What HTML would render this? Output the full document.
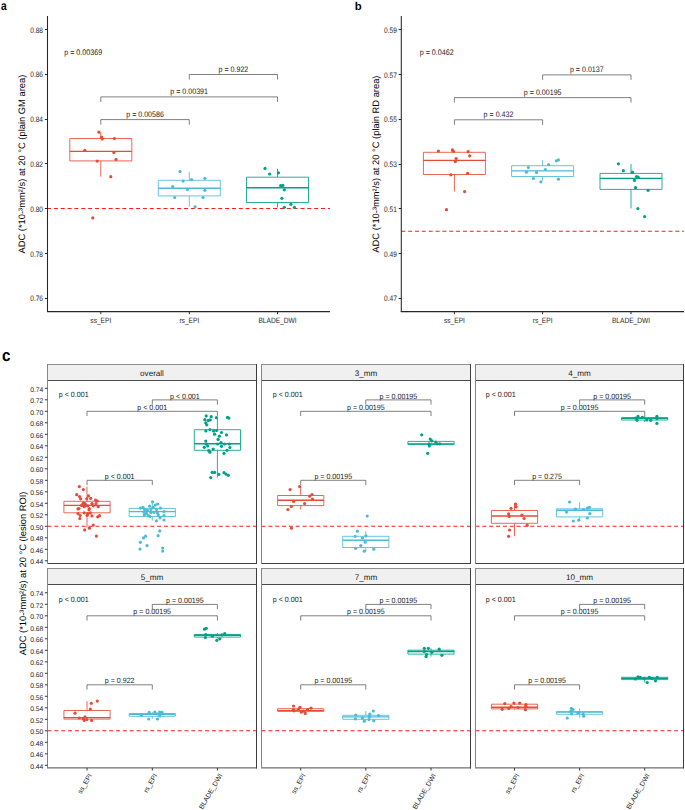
<!DOCTYPE html>
<html><head><meta charset="utf-8"><title>ADC boxplots</title>
<style>
html,body{margin:0;padding:0;background:#fff;}
svg{display:block;font-family:"Liberation Sans", sans-serif;text-rendering:geometricPrecision;}
</style></head><body>
<svg width="685" height="810" viewBox="0 0 685 810">
<rect x="0" y="0" width="685" height="810" fill="#fff"/>
<line x1="47.00" y1="208.50" x2="330.00" y2="208.50" stroke="#FF1A1A" stroke-width="1.05" stroke-dasharray="3.95 2.9"/>
<line x1="100.80" y1="132.50" x2="100.80" y2="138.50" stroke="#E64B35" stroke-width="0.85" />
<line x1="100.80" y1="160.90" x2="100.80" y2="176.70" stroke="#E64B35" stroke-width="0.85" />
<rect x="69.80" y="138.50" width="62.00" height="22.40" fill="none" stroke="#E64B35" stroke-width="0.85" stroke-linejoin="round"/>
<line x1="69.80" y1="151.40" x2="131.80" y2="151.40" stroke="#E64B35" stroke-width="1.4" />
<line x1="189.30" y1="171.90" x2="189.30" y2="180.30" stroke="#4DBBD5" stroke-width="0.85" />
<line x1="189.30" y1="195.90" x2="189.30" y2="206.70" stroke="#4DBBD5" stroke-width="0.85" />
<rect x="158.30" y="180.30" width="62.00" height="15.60" fill="none" stroke="#4DBBD5" stroke-width="0.85" stroke-linejoin="round"/>
<line x1="158.30" y1="188.30" x2="220.30" y2="188.30" stroke="#4DBBD5" stroke-width="1.4" />
<line x1="277.50" y1="168.80" x2="277.50" y2="177.20" stroke="#00A087" stroke-width="0.85" />
<line x1="277.50" y1="202.50" x2="277.50" y2="207.60" stroke="#00A087" stroke-width="0.85" />
<rect x="246.50" y="177.20" width="62.00" height="25.30" fill="none" stroke="#00A087" stroke-width="0.85" stroke-linejoin="round"/>
<line x1="246.50" y1="187.70" x2="308.50" y2="187.70" stroke="#00A087" stroke-width="1.4" />
<circle cx="98.90" cy="132.20" r="1.6" fill="#E64B35"/>
<circle cx="101.70" cy="137.20" r="1.6" fill="#E64B35"/>
<circle cx="102.20" cy="138.90" r="1.6" fill="#E64B35"/>
<circle cx="114.40" cy="138.60" r="1.6" fill="#E64B35"/>
<circle cx="84.80" cy="150.30" r="1.6" fill="#E64B35"/>
<circle cx="113.90" cy="152.60" r="1.6" fill="#E64B35"/>
<circle cx="116.10" cy="159.40" r="1.6" fill="#E64B35"/>
<circle cx="97.20" cy="161.10" r="1.6" fill="#E64B35"/>
<circle cx="110.80" cy="176.70" r="1.6" fill="#E64B35"/>
<circle cx="92.80" cy="217.90" r="1.6" fill="#E64B35"/>
<circle cx="180.00" cy="171.60" r="1.6" fill="#4DBBD5"/>
<circle cx="183.10" cy="181.10" r="1.6" fill="#4DBBD5"/>
<circle cx="191.60" cy="179.60" r="1.6" fill="#4DBBD5"/>
<circle cx="204.90" cy="178.30" r="1.6" fill="#4DBBD5"/>
<circle cx="172.70" cy="186.50" r="1.6" fill="#4DBBD5"/>
<circle cx="187.40" cy="189.50" r="1.6" fill="#4DBBD5"/>
<circle cx="204.90" cy="190.30" r="1.6" fill="#4DBBD5"/>
<circle cx="174.70" cy="197.50" r="1.6" fill="#4DBBD5"/>
<circle cx="203.00" cy="197.50" r="1.6" fill="#4DBBD5"/>
<circle cx="195.10" cy="206.90" r="1.6" fill="#4DBBD5"/>
<circle cx="265.00" cy="168.40" r="1.6" fill="#00A087"/>
<circle cx="269.60" cy="174.00" r="1.6" fill="#00A087"/>
<circle cx="278.50" cy="172.80" r="1.6" fill="#00A087"/>
<circle cx="280.70" cy="185.70" r="1.6" fill="#00A087"/>
<circle cx="282.90" cy="185.40" r="1.6" fill="#00A087"/>
<circle cx="284.30" cy="189.80" r="1.6" fill="#00A087"/>
<circle cx="281.90" cy="198.30" r="1.6" fill="#00A087"/>
<circle cx="290.90" cy="204.30" r="1.6" fill="#00A087"/>
<circle cx="284.30" cy="207.30" r="1.6" fill="#00A087"/>
<circle cx="294.40" cy="207.30" r="1.6" fill="#00A087"/>
<path d="M100.80,124.60 V119.60 H189.30 V124.60" fill="none" stroke="#555555" stroke-width="0.75"/>
<text x="0.00" y="0.00" font-size="7.1" text-anchor="middle" fill="#1a1a1a" font-weight="normal" transform="translate(145.05,116.70) scale(1,1.13)">p = 0.00586</text>
<path d="M100.80,101.90 V96.90 H277.50 V101.90" fill="none" stroke="#555555" stroke-width="0.75"/>
<text x="0.00" y="0.00" font-size="7.1" text-anchor="middle" fill="#1a1a1a" font-weight="normal" transform="translate(189.15,94.00) scale(1,1.13)">p = 0.00391</text>
<path d="M189.30,79.50 V74.50 H277.50 V79.50" fill="none" stroke="#555555" stroke-width="0.75"/>
<text x="0.00" y="0.00" font-size="7.1" text-anchor="middle" fill="#1a1a1a" font-weight="normal" transform="translate(233.40,71.60) scale(1,1.13)">p = 0.922</text>
<text x="0.00" y="0.00" font-size="7.15" text-anchor="start" fill="#1a1a1a" font-weight="normal" transform="translate(64.2,55.3) scale(1,1.13)">p = 0.00369</text>
<line x1="47.50" y1="16.00" x2="47.50" y2="312.10" stroke="#262626" stroke-width="1.05" />
<line x1="47.00" y1="311.60" x2="330.00" y2="311.60" stroke="#262626" stroke-width="1.05" />
<line x1="44.90" y1="298.50" x2="47.50" y2="298.50" stroke="#262626" stroke-width="1.0" />
<text x="0.00" y="0.00" font-size="7.9" text-anchor="end" fill="#262626" font-weight="normal" transform="translate(43.00,301.32) scale(0.83,1)">0.76</text>
<line x1="44.90" y1="253.50" x2="47.50" y2="253.50" stroke="#262626" stroke-width="1.0" />
<text x="0.00" y="0.00" font-size="7.9" text-anchor="end" fill="#262626" font-weight="normal" transform="translate(43.00,256.55) scale(0.83,1)">0.78</text>
<line x1="44.90" y1="208.50" x2="47.50" y2="208.50" stroke="#262626" stroke-width="1.0" />
<text x="0.00" y="0.00" font-size="7.9" text-anchor="end" fill="#262626" font-weight="normal" transform="translate(43.00,211.78) scale(0.83,1)">0.80</text>
<line x1="44.90" y1="163.50" x2="47.50" y2="163.50" stroke="#262626" stroke-width="1.0" />
<text x="0.00" y="0.00" font-size="7.9" text-anchor="end" fill="#262626" font-weight="normal" transform="translate(43.00,167.01) scale(0.83,1)">0.82</text>
<line x1="44.90" y1="119.50" x2="47.50" y2="119.50" stroke="#262626" stroke-width="1.0" />
<text x="0.00" y="0.00" font-size="7.9" text-anchor="end" fill="#262626" font-weight="normal" transform="translate(43.00,122.24) scale(0.83,1)">0.84</text>
<line x1="44.90" y1="74.50" x2="47.50" y2="74.50" stroke="#262626" stroke-width="1.0" />
<text x="0.00" y="0.00" font-size="7.9" text-anchor="end" fill="#262626" font-weight="normal" transform="translate(43.00,77.47) scale(0.83,1)">0.86</text>
<line x1="44.90" y1="29.50" x2="47.50" y2="29.50" stroke="#262626" stroke-width="1.0" />
<text x="0.00" y="0.00" font-size="7.9" text-anchor="end" fill="#262626" font-weight="normal" transform="translate(43.00,32.70) scale(0.83,1)">0.88</text>
<line x1="100.80" y1="311.40" x2="100.80" y2="314.20" stroke="#262626" stroke-width="1.0" />
<text x="0.00" y="0.00" font-size="7.7" text-anchor="middle" fill="#262626" font-weight="normal" transform="translate(100.80,322.8) scale(0.86,1)">ss_EPI</text>
<line x1="189.30" y1="311.40" x2="189.30" y2="314.20" stroke="#262626" stroke-width="1.0" />
<text x="0.00" y="0.00" font-size="7.7" text-anchor="middle" fill="#262626" font-weight="normal" transform="translate(189.30,322.8) scale(0.86,1)">rs_EPI</text>
<line x1="277.50" y1="311.40" x2="277.50" y2="314.20" stroke="#262626" stroke-width="1.0" />
<text x="0.00" y="0.00" font-size="7.7" text-anchor="middle" fill="#262626" font-weight="normal" transform="translate(277.50,322.8) scale(0.86,1)">BLADE_DWI</text>
<text x="0.00" y="0.00" font-size="9.35" text-anchor="middle" fill="#000" font-weight="normal" transform="translate(25.40,164.1) rotate(-90)">ADC (*10-³mm²/s) at 20 °C (plain GM area)</text>
<line x1="401.30" y1="231.20" x2="684.00" y2="231.20" stroke="#FF1A1A" stroke-width="1.05" stroke-dasharray="3.95 2.9"/>
<line x1="454.40" y1="150.50" x2="454.40" y2="152.30" stroke="#E64B35" stroke-width="0.85" />
<line x1="454.40" y1="174.50" x2="454.40" y2="191.60" stroke="#E64B35" stroke-width="0.85" />
<rect x="423.40" y="152.30" width="62.00" height="22.20" fill="none" stroke="#E64B35" stroke-width="0.85" stroke-linejoin="round"/>
<line x1="423.40" y1="160.40" x2="485.40" y2="160.40" stroke="#E64B35" stroke-width="1.4" />
<line x1="542.60" y1="160.20" x2="542.60" y2="165.70" stroke="#4DBBD5" stroke-width="0.85" />
<line x1="542.60" y1="176.50" x2="542.60" y2="180.60" stroke="#4DBBD5" stroke-width="0.85" />
<rect x="511.60" y="165.70" width="62.00" height="10.80" fill="none" stroke="#4DBBD5" stroke-width="0.85" stroke-linejoin="round"/>
<line x1="511.60" y1="170.90" x2="573.60" y2="170.90" stroke="#4DBBD5" stroke-width="1.4" />
<line x1="631.00" y1="164.00" x2="631.00" y2="173.40" stroke="#00A087" stroke-width="0.85" />
<line x1="631.00" y1="189.40" x2="631.00" y2="208.40" stroke="#00A087" stroke-width="0.85" />
<rect x="600.00" y="173.40" width="62.00" height="16.00" fill="none" stroke="#00A087" stroke-width="0.85" stroke-linejoin="round"/>
<line x1="600.00" y1="178.40" x2="662.00" y2="178.40" stroke="#00A087" stroke-width="1.4" />
<circle cx="438.40" cy="151.10" r="1.6" fill="#E64B35"/>
<circle cx="452.40" cy="149.90" r="1.6" fill="#E64B35"/>
<circle cx="453.30" cy="151.30" r="1.6" fill="#E64B35"/>
<circle cx="468.10" cy="151.70" r="1.6" fill="#E64B35"/>
<circle cx="469.70" cy="155.80" r="1.6" fill="#E64B35"/>
<circle cx="456.10" cy="158.50" r="1.6" fill="#E64B35"/>
<circle cx="455.30" cy="161.60" r="1.6" fill="#E64B35"/>
<circle cx="450.90" cy="174.80" r="1.6" fill="#E64B35"/>
<circle cx="467.60" cy="173.30" r="1.6" fill="#E64B35"/>
<circle cx="464.60" cy="191.60" r="1.6" fill="#E64B35"/>
<circle cx="446.50" cy="209.70" r="1.6" fill="#E64B35"/>
<circle cx="556.40" cy="160.80" r="1.6" fill="#4DBBD5"/>
<circle cx="558.40" cy="159.90" r="1.6" fill="#4DBBD5"/>
<circle cx="548.60" cy="164.60" r="1.6" fill="#4DBBD5"/>
<circle cx="528.40" cy="167.50" r="1.6" fill="#4DBBD5"/>
<circle cx="545.30" cy="169.50" r="1.6" fill="#4DBBD5"/>
<circle cx="526.40" cy="172.20" r="1.6" fill="#4DBBD5"/>
<circle cx="536.50" cy="172.40" r="1.6" fill="#4DBBD5"/>
<circle cx="533.40" cy="178.50" r="1.6" fill="#4DBBD5"/>
<circle cx="540.90" cy="181.80" r="1.6" fill="#4DBBD5"/>
<circle cx="558.40" cy="179.20" r="1.6" fill="#4DBBD5"/>
<circle cx="618.40" cy="163.80" r="1.6" fill="#00A087"/>
<circle cx="623.30" cy="170.70" r="1.6" fill="#00A087"/>
<circle cx="632.40" cy="172.20" r="1.6" fill="#00A087"/>
<circle cx="636.50" cy="176.60" r="1.6" fill="#00A087"/>
<circle cx="638.20" cy="177.20" r="1.6" fill="#00A087"/>
<circle cx="634.50" cy="180.40" r="1.6" fill="#00A087"/>
<circle cx="635.50" cy="187.70" r="1.6" fill="#00A087"/>
<circle cx="648.10" cy="190.30" r="1.6" fill="#00A087"/>
<circle cx="637.90" cy="208.60" r="1.6" fill="#00A087"/>
<circle cx="644.60" cy="216.60" r="1.6" fill="#00A087"/>
<path d="M454.40,124.80 V119.80 H542.60 V124.80" fill="none" stroke="#555555" stroke-width="0.75"/>
<text x="0.00" y="0.00" font-size="7.1" text-anchor="middle" fill="#1a1a1a" font-weight="normal" transform="translate(498.50,116.90) scale(1,1.13)">p = 0.432</text>
<path d="M454.40,102.60 V97.60 H631.00 V102.60" fill="none" stroke="#555555" stroke-width="0.75"/>
<text x="0.00" y="0.00" font-size="7.1" text-anchor="middle" fill="#1a1a1a" font-weight="normal" transform="translate(542.70,94.70) scale(1,1.13)">p = 0.00195</text>
<path d="M542.60,79.90 V74.90 H631.00 V79.90" fill="none" stroke="#555555" stroke-width="0.75"/>
<text x="0.00" y="0.00" font-size="7.1" text-anchor="middle" fill="#1a1a1a" font-weight="normal" transform="translate(586.80,72.00) scale(1,1.13)">p = 0.0137</text>
<text x="0.00" y="0.00" font-size="7.15" text-anchor="start" fill="#1a1a1a" font-weight="normal" transform="translate(419.7,55.3) scale(1,1.13)">p = 0.0462</text>
<line x1="401.30" y1="16.00" x2="401.30" y2="312.10" stroke="#262626" stroke-width="1.05" />
<line x1="400.80" y1="311.60" x2="684.00" y2="311.60" stroke="#262626" stroke-width="1.05" />
<line x1="398.70" y1="298.50" x2="401.30" y2="298.50" stroke="#262626" stroke-width="1.0" />
<text x="0.00" y="0.00" font-size="7.9" text-anchor="end" fill="#262626" font-weight="normal" transform="translate(396.80,301.40) scale(0.83,1)">0.47</text>
<line x1="398.70" y1="253.50" x2="401.30" y2="253.50" stroke="#262626" stroke-width="1.0" />
<text x="0.00" y="0.00" font-size="7.9" text-anchor="end" fill="#262626" font-weight="normal" transform="translate(396.80,256.65) scale(0.83,1)">0.49</text>
<line x1="398.70" y1="208.50" x2="401.30" y2="208.50" stroke="#262626" stroke-width="1.0" />
<text x="0.00" y="0.00" font-size="7.9" text-anchor="end" fill="#262626" font-weight="normal" transform="translate(396.80,211.90) scale(0.83,1)">0.51</text>
<line x1="398.70" y1="164.50" x2="401.30" y2="164.50" stroke="#262626" stroke-width="1.0" />
<text x="0.00" y="0.00" font-size="7.9" text-anchor="end" fill="#262626" font-weight="normal" transform="translate(396.80,167.15) scale(0.83,1)">0.53</text>
<line x1="398.70" y1="119.50" x2="401.30" y2="119.50" stroke="#262626" stroke-width="1.0" />
<text x="0.00" y="0.00" font-size="7.9" text-anchor="end" fill="#262626" font-weight="normal" transform="translate(396.80,122.40) scale(0.83,1)">0.55</text>
<line x1="398.70" y1="74.50" x2="401.30" y2="74.50" stroke="#262626" stroke-width="1.0" />
<text x="0.00" y="0.00" font-size="7.9" text-anchor="end" fill="#262626" font-weight="normal" transform="translate(396.80,77.65) scale(0.83,1)">0.57</text>
<line x1="398.70" y1="29.50" x2="401.30" y2="29.50" stroke="#262626" stroke-width="1.0" />
<text x="0.00" y="0.00" font-size="7.9" text-anchor="end" fill="#262626" font-weight="normal" transform="translate(396.80,32.90) scale(0.83,1)">0.59</text>
<line x1="454.40" y1="311.40" x2="454.40" y2="314.20" stroke="#262626" stroke-width="1.0" />
<text x="0.00" y="0.00" font-size="7.7" text-anchor="middle" fill="#262626" font-weight="normal" transform="translate(454.40,322.8) scale(0.86,1)">ss_EPI</text>
<line x1="542.60" y1="311.40" x2="542.60" y2="314.20" stroke="#262626" stroke-width="1.0" />
<text x="0.00" y="0.00" font-size="7.7" text-anchor="middle" fill="#262626" font-weight="normal" transform="translate(542.60,322.8) scale(0.86,1)">rs_EPI</text>
<line x1="631.00" y1="311.40" x2="631.00" y2="314.20" stroke="#262626" stroke-width="1.0" />
<text x="0.00" y="0.00" font-size="7.7" text-anchor="middle" fill="#262626" font-weight="normal" transform="translate(631.00,322.8) scale(0.86,1)">BLADE_DWI</text>
<text x="0.00" y="0.00" font-size="9.35" text-anchor="middle" fill="#000" font-weight="normal" transform="translate(379.20,164.1) rotate(-90)">ADC (*10-³mm²/s) at 20 °C (plain RD area)</text>
<text x="0.00" y="0.00" font-size="11.3" text-anchor="start" fill="#000" font-weight="bold" transform="translate(1.0,9.65) scale(0.9,1.12)">a</text>
<text x="354.70" y="9.70" font-size="11.3" text-anchor="start" fill="#000" font-weight="bold" >b</text>
<text x="0.00" y="0.00" font-size="15.2" text-anchor="start" fill="#000" font-weight="bold" transform="translate(2.0,360.8) scale(1,1.1)">c</text>
<rect x="47.50" y="364.50" width="209.00" height="16.00" fill="#F0F0F0" stroke="none" stroke-width="0" />
<text x="152.00" y="375.70" font-size="8.1" text-anchor="middle" fill="#1a1a1a" font-weight="normal" >overall</text>
<line x1="47.50" y1="526.30" x2="256.50" y2="526.30" stroke="#FF1A1A" stroke-width="1.05" stroke-dasharray="3.95 2.9"/>
<line x1="87.00" y1="486.60" x2="87.00" y2="501.30" stroke="#E64B35" stroke-width="0.85" />
<line x1="87.00" y1="512.80" x2="87.00" y2="527.70" stroke="#E64B35" stroke-width="0.85" />
<rect x="63.90" y="501.30" width="46.20" height="11.50" fill="none" stroke="#E64B35" stroke-width="0.85" stroke-linejoin="round"/>
<line x1="63.90" y1="505.40" x2="110.10" y2="505.40" stroke="#E64B35" stroke-width="1.4" />
<line x1="152.30" y1="501.60" x2="152.30" y2="508.40" stroke="#4DBBD5" stroke-width="0.85" />
<line x1="152.30" y1="516.50" x2="152.30" y2="520.60" stroke="#4DBBD5" stroke-width="0.85" />
<rect x="129.20" y="508.40" width="46.20" height="8.10" fill="none" stroke="#4DBBD5" stroke-width="0.85" stroke-linejoin="round"/>
<line x1="129.20" y1="511.60" x2="175.40" y2="511.60" stroke="#4DBBD5" stroke-width="1.4" />
<line x1="217.40" y1="417.40" x2="217.40" y2="429.70" stroke="#00A087" stroke-width="0.85" />
<line x1="217.40" y1="450.30" x2="217.40" y2="477.60" stroke="#00A087" stroke-width="0.85" />
<rect x="194.30" y="429.70" width="46.20" height="20.60" fill="none" stroke="#00A087" stroke-width="0.85" stroke-linejoin="round"/>
<line x1="194.30" y1="443.80" x2="240.50" y2="443.80" stroke="#00A087" stroke-width="1.4" />
<circle cx="79.30" cy="486.60" r="1.6" fill="#E64B35"/>
<circle cx="83.30" cy="489.60" r="1.6" fill="#E64B35"/>
<circle cx="76.70" cy="494.70" r="1.6" fill="#E64B35"/>
<circle cx="79.60" cy="496.60" r="1.6" fill="#E64B35"/>
<circle cx="80.60" cy="498.80" r="1.6" fill="#E64B35"/>
<circle cx="88.50" cy="495.90" r="1.6" fill="#E64B35"/>
<circle cx="86.80" cy="498.80" r="1.6" fill="#E64B35"/>
<circle cx="90.70" cy="498.40" r="1.6" fill="#E64B35"/>
<circle cx="95.50" cy="500.10" r="1.6" fill="#E64B35"/>
<circle cx="97.30" cy="501.00" r="1.6" fill="#E64B35"/>
<circle cx="83.30" cy="503.20" r="1.6" fill="#E64B35"/>
<circle cx="85.00" cy="503.60" r="1.6" fill="#E64B35"/>
<circle cx="82.40" cy="505.00" r="1.6" fill="#E64B35"/>
<circle cx="85.90" cy="505.40" r="1.6" fill="#E64B35"/>
<circle cx="87.70" cy="505.80" r="1.6" fill="#E64B35"/>
<circle cx="84.20" cy="506.70" r="1.6" fill="#E64B35"/>
<circle cx="81.50" cy="505.40" r="1.6" fill="#E64B35"/>
<circle cx="92.00" cy="503.60" r="1.6" fill="#E64B35"/>
<circle cx="93.30" cy="505.80" r="1.6" fill="#E64B35"/>
<circle cx="98.20" cy="506.70" r="1.6" fill="#E64B35"/>
<circle cx="96.00" cy="503.60" r="1.6" fill="#E64B35"/>
<circle cx="78.90" cy="508.50" r="1.6" fill="#E64B35"/>
<circle cx="78.00" cy="508.90" r="1.6" fill="#E64B35"/>
<circle cx="89.40" cy="508.50" r="1.6" fill="#E64B35"/>
<circle cx="89.00" cy="509.80" r="1.6" fill="#E64B35"/>
<circle cx="84.20" cy="512.80" r="1.6" fill="#E64B35"/>
<circle cx="78.00" cy="513.70" r="1.6" fill="#E64B35"/>
<circle cx="80.20" cy="515.50" r="1.6" fill="#E64B35"/>
<circle cx="79.80" cy="518.50" r="1.6" fill="#E64B35"/>
<circle cx="87.70" cy="513.70" r="1.6" fill="#E64B35"/>
<circle cx="87.20" cy="515.50" r="1.6" fill="#E64B35"/>
<circle cx="90.30" cy="512.80" r="1.6" fill="#E64B35"/>
<circle cx="92.00" cy="515.90" r="1.6" fill="#E64B35"/>
<circle cx="97.70" cy="516.80" r="1.6" fill="#E64B35"/>
<circle cx="99.50" cy="515.70" r="1.6" fill="#E64B35"/>
<circle cx="93.30" cy="525.10" r="1.6" fill="#E64B35"/>
<circle cx="89.40" cy="528.20" r="1.6" fill="#E64B35"/>
<circle cx="84.60" cy="529.90" r="1.6" fill="#E64B35"/>
<circle cx="96.40" cy="536.10" r="1.6" fill="#E64B35"/>
<circle cx="152.50" cy="501.80" r="1.6" fill="#4DBBD5"/>
<circle cx="157.70" cy="504.00" r="1.6" fill="#4DBBD5"/>
<circle cx="155.30" cy="505.10" r="1.6" fill="#4DBBD5"/>
<circle cx="149.60" cy="506.20" r="1.6" fill="#4DBBD5"/>
<circle cx="140.40" cy="508.10" r="1.6" fill="#4DBBD5"/>
<circle cx="143.00" cy="507.30" r="1.6" fill="#4DBBD5"/>
<circle cx="153.10" cy="507.30" r="1.6" fill="#4DBBD5"/>
<circle cx="160.50" cy="508.10" r="1.6" fill="#4DBBD5"/>
<circle cx="144.80" cy="509.50" r="1.6" fill="#4DBBD5"/>
<circle cx="147.40" cy="510.30" r="1.6" fill="#4DBBD5"/>
<circle cx="150.90" cy="509.50" r="1.6" fill="#4DBBD5"/>
<circle cx="156.60" cy="509.50" r="1.6" fill="#4DBBD5"/>
<circle cx="143.90" cy="512.10" r="1.6" fill="#4DBBD5"/>
<circle cx="146.50" cy="513.40" r="1.6" fill="#4DBBD5"/>
<circle cx="150.90" cy="512.50" r="1.6" fill="#4DBBD5"/>
<circle cx="148.30" cy="515.60" r="1.6" fill="#4DBBD5"/>
<circle cx="144.30" cy="514.70" r="1.6" fill="#4DBBD5"/>
<circle cx="164.00" cy="511.60" r="1.6" fill="#4DBBD5"/>
<circle cx="157.50" cy="513.00" r="1.6" fill="#4DBBD5"/>
<circle cx="164.00" cy="515.60" r="1.6" fill="#4DBBD5"/>
<circle cx="158.30" cy="515.10" r="1.6" fill="#4DBBD5"/>
<circle cx="160.10" cy="517.80" r="1.6" fill="#4DBBD5"/>
<circle cx="164.00" cy="520.00" r="1.6" fill="#4DBBD5"/>
<circle cx="156.40" cy="520.80" r="1.6" fill="#4DBBD5"/>
<circle cx="150.00" cy="516.50" r="1.6" fill="#4DBBD5"/>
<circle cx="154.00" cy="512.50" r="1.6" fill="#4DBBD5"/>
<circle cx="159.70" cy="530.90" r="1.6" fill="#4DBBD5"/>
<circle cx="158.10" cy="535.70" r="1.6" fill="#4DBBD5"/>
<circle cx="145.60" cy="536.20" r="1.6" fill="#4DBBD5"/>
<circle cx="143.50" cy="537.90" r="1.6" fill="#4DBBD5"/>
<circle cx="140.40" cy="542.30" r="1.6" fill="#4DBBD5"/>
<circle cx="147.00" cy="545.60" r="1.6" fill="#4DBBD5"/>
<circle cx="140.00" cy="549.10" r="1.6" fill="#4DBBD5"/>
<circle cx="162.70" cy="548.00" r="1.6" fill="#4DBBD5"/>
<circle cx="162.70" cy="551.10" r="1.6" fill="#4DBBD5"/>
<circle cx="206.20" cy="415.90" r="1.6" fill="#00A087"/>
<circle cx="211.20" cy="416.70" r="1.6" fill="#00A087"/>
<circle cx="216.40" cy="417.70" r="1.6" fill="#00A087"/>
<circle cx="227.50" cy="417.40" r="1.6" fill="#00A087"/>
<circle cx="228.90" cy="418.10" r="1.6" fill="#00A087"/>
<circle cx="204.80" cy="419.70" r="1.6" fill="#00A087"/>
<circle cx="208.20" cy="420.40" r="1.6" fill="#00A087"/>
<circle cx="210.20" cy="419.90" r="1.6" fill="#00A087"/>
<circle cx="205.80" cy="422.80" r="1.6" fill="#00A087"/>
<circle cx="206.70" cy="424.80" r="1.6" fill="#00A087"/>
<circle cx="205.90" cy="430.90" r="1.6" fill="#00A087"/>
<circle cx="209.90" cy="429.50" r="1.6" fill="#00A087"/>
<circle cx="213.60" cy="430.90" r="1.6" fill="#00A087"/>
<circle cx="216.60" cy="430.50" r="1.6" fill="#00A087"/>
<circle cx="221.50" cy="432.50" r="1.6" fill="#00A087"/>
<circle cx="214.60" cy="434.20" r="1.6" fill="#00A087"/>
<circle cx="226.50" cy="434.90" r="1.6" fill="#00A087"/>
<circle cx="219.40" cy="436.20" r="1.6" fill="#00A087"/>
<circle cx="218.10" cy="439.40" r="1.6" fill="#00A087"/>
<circle cx="205.80" cy="441.10" r="1.6" fill="#00A087"/>
<circle cx="206.20" cy="444.00" r="1.6" fill="#00A087"/>
<circle cx="207.70" cy="446.00" r="1.6" fill="#00A087"/>
<circle cx="204.30" cy="447.30" r="1.6" fill="#00A087"/>
<circle cx="217.60" cy="444.00" r="1.6" fill="#00A087"/>
<circle cx="221.00" cy="442.60" r="1.6" fill="#00A087"/>
<circle cx="224.50" cy="444.00" r="1.6" fill="#00A087"/>
<circle cx="221.50" cy="446.30" r="1.6" fill="#00A087"/>
<circle cx="229.40" cy="444.00" r="1.6" fill="#00A087"/>
<circle cx="229.90" cy="447.50" r="1.6" fill="#00A087"/>
<circle cx="213.20" cy="449.00" r="1.6" fill="#00A087"/>
<circle cx="208.70" cy="450.50" r="1.6" fill="#00A087"/>
<circle cx="209.90" cy="452.20" r="1.6" fill="#00A087"/>
<circle cx="227.00" cy="450.30" r="1.6" fill="#00A087"/>
<circle cx="224.00" cy="453.40" r="1.6" fill="#00A087"/>
<circle cx="212.20" cy="472.40" r="1.6" fill="#00A087"/>
<circle cx="214.60" cy="472.40" r="1.6" fill="#00A087"/>
<circle cx="218.80" cy="474.30" r="1.6" fill="#00A087"/>
<circle cx="224.00" cy="472.70" r="1.6" fill="#00A087"/>
<circle cx="226.00" cy="474.10" r="1.6" fill="#00A087"/>
<circle cx="228.40" cy="475.30" r="1.6" fill="#00A087"/>
<circle cx="210.70" cy="477.60" r="1.6" fill="#00A087"/>
<path d="M87.00,485.10 V480.30 H152.30 V485.10" fill="none" stroke="#555555" stroke-width="0.75"/>
<text x="0.00" y="0.00" font-size="7.1" text-anchor="middle" fill="#1a1a1a" font-weight="normal" transform="translate(119.65,478.90) scale(1,1.08)">p < 0.001</text>
<path d="M87.00,416.10 V411.30 H217.40 V416.10" fill="none" stroke="#555555" stroke-width="0.75"/>
<text x="0.00" y="0.00" font-size="7.1" text-anchor="middle" fill="#1a1a1a" font-weight="normal" transform="translate(152.20,409.90) scale(1,1.08)">p < 0.001</text>
<path d="M152.30,404.70 V399.90 H217.40 V404.70" fill="none" stroke="#555555" stroke-width="0.75"/>
<text x="0.00" y="0.00" font-size="7.1" text-anchor="middle" fill="#1a1a1a" font-weight="normal" transform="translate(184.85,398.50) scale(1,1.08)">p < 0.001</text>
<text x="0.00" y="0.00" font-size="7.1" text-anchor="start" fill="#1a1a1a" font-weight="normal" transform="translate(58.80,397.20) scale(1,1.08)">p &lt; 0.001</text>
<line x1="47.50" y1="364.50" x2="256.50" y2="364.50" stroke="#8f8f8f" stroke-width="1.0" />
<line x1="47.50" y1="380.50" x2="256.50" y2="380.50" stroke="#4a4a4a" stroke-width="1.0" />
<line x1="47.50" y1="563.50" x2="257.00" y2="563.50" stroke="#404040" stroke-width="1.0" />
<line x1="47.50" y1="364.00" x2="47.50" y2="564.00" stroke="#858585" stroke-width="1.0" />
<line x1="256.50" y1="364.00" x2="256.50" y2="564.00" stroke="#3d3d3d" stroke-width="1.0" />
<line x1="44.90" y1="560.80" x2="47.50" y2="560.80" stroke="#333" stroke-width="1.0" />
<text x="43.40" y="564.30" font-size="6.8" text-anchor="end" fill="#262626" font-weight="normal" >0.44</text>
<line x1="44.90" y1="549.30" x2="47.50" y2="549.30" stroke="#333" stroke-width="1.0" />
<text x="43.40" y="552.80" font-size="6.8" text-anchor="end" fill="#262626" font-weight="normal" >0.46</text>
<line x1="44.90" y1="537.80" x2="47.50" y2="537.80" stroke="#333" stroke-width="1.0" />
<text x="43.40" y="541.30" font-size="6.8" text-anchor="end" fill="#262626" font-weight="normal" >0.48</text>
<line x1="44.90" y1="526.30" x2="47.50" y2="526.30" stroke="#333" stroke-width="1.0" />
<text x="43.40" y="529.80" font-size="6.8" text-anchor="end" fill="#262626" font-weight="normal" >0.50</text>
<line x1="44.90" y1="514.80" x2="47.50" y2="514.80" stroke="#333" stroke-width="1.0" />
<text x="43.40" y="518.30" font-size="6.8" text-anchor="end" fill="#262626" font-weight="normal" >0.52</text>
<line x1="44.90" y1="503.30" x2="47.50" y2="503.30" stroke="#333" stroke-width="1.0" />
<text x="43.40" y="506.80" font-size="6.8" text-anchor="end" fill="#262626" font-weight="normal" >0.54</text>
<line x1="44.90" y1="491.80" x2="47.50" y2="491.80" stroke="#333" stroke-width="1.0" />
<text x="43.40" y="495.30" font-size="6.8" text-anchor="end" fill="#262626" font-weight="normal" >0.56</text>
<line x1="44.90" y1="480.30" x2="47.50" y2="480.30" stroke="#333" stroke-width="1.0" />
<text x="43.40" y="483.80" font-size="6.8" text-anchor="end" fill="#262626" font-weight="normal" >0.58</text>
<line x1="44.90" y1="468.80" x2="47.50" y2="468.80" stroke="#333" stroke-width="1.0" />
<text x="43.40" y="472.30" font-size="6.8" text-anchor="end" fill="#262626" font-weight="normal" >0.60</text>
<line x1="44.90" y1="457.30" x2="47.50" y2="457.30" stroke="#333" stroke-width="1.0" />
<text x="43.40" y="460.80" font-size="6.8" text-anchor="end" fill="#262626" font-weight="normal" >0.62</text>
<line x1="44.90" y1="445.80" x2="47.50" y2="445.80" stroke="#333" stroke-width="1.0" />
<text x="43.40" y="449.30" font-size="6.8" text-anchor="end" fill="#262626" font-weight="normal" >0.64</text>
<line x1="44.90" y1="434.30" x2="47.50" y2="434.30" stroke="#333" stroke-width="1.0" />
<text x="43.40" y="437.80" font-size="6.8" text-anchor="end" fill="#262626" font-weight="normal" >0.66</text>
<line x1="44.90" y1="422.80" x2="47.50" y2="422.80" stroke="#333" stroke-width="1.0" />
<text x="43.40" y="426.30" font-size="6.8" text-anchor="end" fill="#262626" font-weight="normal" >0.68</text>
<line x1="44.90" y1="411.30" x2="47.50" y2="411.30" stroke="#333" stroke-width="1.0" />
<text x="43.40" y="414.80" font-size="6.8" text-anchor="end" fill="#262626" font-weight="normal" >0.70</text>
<line x1="44.90" y1="399.80" x2="47.50" y2="399.80" stroke="#333" stroke-width="1.0" />
<text x="43.40" y="403.30" font-size="6.8" text-anchor="end" fill="#262626" font-weight="normal" >0.72</text>
<line x1="44.90" y1="388.30" x2="47.50" y2="388.30" stroke="#333" stroke-width="1.0" />
<text x="43.40" y="391.80" font-size="6.8" text-anchor="end" fill="#262626" font-weight="normal" >0.74</text>
<rect x="261.50" y="364.50" width="209.00" height="16.00" fill="#F0F0F0" stroke="none" stroke-width="0" />
<text x="366.00" y="375.70" font-size="8.1" text-anchor="middle" fill="#1a1a1a" font-weight="normal" >3_mm</text>
<line x1="261.50" y1="526.30" x2="470.50" y2="526.30" stroke="#FF1A1A" stroke-width="1.05" stroke-dasharray="3.95 2.9"/>
<line x1="300.70" y1="486.60" x2="300.70" y2="495.50" stroke="#E64B35" stroke-width="0.85" />
<line x1="300.70" y1="505.60" x2="300.70" y2="509.60" stroke="#E64B35" stroke-width="0.85" />
<rect x="277.60" y="495.50" width="46.20" height="10.10" fill="none" stroke="#E64B35" stroke-width="0.85" stroke-linejoin="round"/>
<line x1="277.60" y1="500.30" x2="323.80" y2="500.30" stroke="#E64B35" stroke-width="1.4" />
<line x1="365.80" y1="531.20" x2="365.80" y2="536.30" stroke="#4DBBD5" stroke-width="0.85" />
<line x1="365.80" y1="547.50" x2="365.80" y2="551.20" stroke="#4DBBD5" stroke-width="0.85" />
<rect x="342.70" y="536.30" width="46.20" height="11.20" fill="none" stroke="#4DBBD5" stroke-width="0.85" stroke-linejoin="round"/>
<line x1="342.70" y1="540.20" x2="388.90" y2="540.20" stroke="#4DBBD5" stroke-width="1.4" />
<line x1="431.00" y1="439.00" x2="431.00" y2="441.40" stroke="#00A087" stroke-width="0.85" />
<line x1="431.00" y1="444.40" x2="431.00" y2="446.00" stroke="#00A087" stroke-width="0.85" />
<rect x="407.90" y="441.40" width="46.20" height="3.00" fill="none" stroke="#00A087" stroke-width="0.85" stroke-linejoin="round"/>
<line x1="407.90" y1="443.90" x2="454.10" y2="443.90" stroke="#00A087" stroke-width="1.4" />
<circle cx="299.60" cy="486.60" r="1.6" fill="#E64B35"/>
<circle cx="290.10" cy="489.60" r="1.6" fill="#E64B35"/>
<circle cx="309.70" cy="496.20" r="1.6" fill="#E64B35"/>
<circle cx="312.00" cy="494.50" r="1.6" fill="#E64B35"/>
<circle cx="312.50" cy="499.10" r="1.6" fill="#E64B35"/>
<circle cx="293.50" cy="501.50" r="1.6" fill="#E64B35"/>
<circle cx="304.60" cy="503.60" r="1.6" fill="#E64B35"/>
<circle cx="291.40" cy="506.50" r="1.6" fill="#E64B35"/>
<circle cx="287.90" cy="509.50" r="1.6" fill="#E64B35"/>
<circle cx="291.40" cy="528.20" r="1.6" fill="#E64B35"/>
<circle cx="367.20" cy="516.10" r="1.6" fill="#4DBBD5"/>
<circle cx="357.40" cy="531.20" r="1.6" fill="#4DBBD5"/>
<circle cx="355.20" cy="536.30" r="1.6" fill="#4DBBD5"/>
<circle cx="362.40" cy="537.90" r="1.6" fill="#4DBBD5"/>
<circle cx="365.90" cy="535.80" r="1.6" fill="#4DBBD5"/>
<circle cx="365.20" cy="542.20" r="1.6" fill="#4DBBD5"/>
<circle cx="360.80" cy="545.50" r="1.6" fill="#4DBBD5"/>
<circle cx="355.60" cy="548.30" r="1.6" fill="#4DBBD5"/>
<circle cx="373.80" cy="549.20" r="1.6" fill="#4DBBD5"/>
<circle cx="364.30" cy="551.20" r="1.6" fill="#4DBBD5"/>
<circle cx="421.70" cy="434.80" r="1.6" fill="#00A087"/>
<circle cx="430.20" cy="439.00" r="1.6" fill="#00A087"/>
<circle cx="431.80" cy="440.80" r="1.6" fill="#00A087"/>
<circle cx="435.70" cy="442.10" r="1.6" fill="#00A087"/>
<circle cx="437.00" cy="443.80" r="1.6" fill="#00A087"/>
<circle cx="439.70" cy="443.80" r="1.6" fill="#00A087"/>
<circle cx="429.20" cy="443.80" r="1.6" fill="#00A087"/>
<circle cx="429.30" cy="446.00" r="1.6" fill="#00A087"/>
<circle cx="427.70" cy="453.30" r="1.6" fill="#00A087"/>
<path d="M300.70,485.10 V480.30 H365.80 V485.10" fill="none" stroke="#555555" stroke-width="0.75"/>
<text x="0.00" y="0.00" font-size="7.1" text-anchor="middle" fill="#1a1a1a" font-weight="normal" transform="translate(333.25,478.90) scale(1,1.08)">p = 0.00195</text>
<path d="M300.70,416.10 V411.30 H431.00 V416.10" fill="none" stroke="#555555" stroke-width="0.75"/>
<text x="0.00" y="0.00" font-size="7.1" text-anchor="middle" fill="#1a1a1a" font-weight="normal" transform="translate(365.85,409.90) scale(1,1.08)">p = 0.00195</text>
<path d="M365.80,404.70 V399.90 H431.00 V404.70" fill="none" stroke="#555555" stroke-width="0.75"/>
<text x="0.00" y="0.00" font-size="7.1" text-anchor="middle" fill="#1a1a1a" font-weight="normal" transform="translate(398.40,398.50) scale(1,1.08)">p = 0.00195</text>
<text x="0.00" y="0.00" font-size="7.1" text-anchor="start" fill="#1a1a1a" font-weight="normal" transform="translate(272.80,397.20) scale(1,1.08)">p &lt; 0.001</text>
<line x1="261.50" y1="364.50" x2="470.50" y2="364.50" stroke="#8f8f8f" stroke-width="1.0" />
<line x1="261.50" y1="380.50" x2="470.50" y2="380.50" stroke="#4a4a4a" stroke-width="1.0" />
<line x1="261.50" y1="563.50" x2="471.00" y2="563.50" stroke="#404040" stroke-width="1.0" />
<line x1="261.50" y1="364.00" x2="261.50" y2="564.00" stroke="#858585" stroke-width="1.0" />
<line x1="470.50" y1="364.00" x2="470.50" y2="564.00" stroke="#3d3d3d" stroke-width="1.0" />
<rect x="475.50" y="364.50" width="208.00" height="16.00" fill="#F0F0F0" stroke="none" stroke-width="0" />
<text x="579.50" y="375.70" font-size="8.1" text-anchor="middle" fill="#1a1a1a" font-weight="normal" >4_mm</text>
<line x1="475.50" y1="526.30" x2="683.50" y2="526.30" stroke="#FF1A1A" stroke-width="1.05" stroke-dasharray="3.95 2.9"/>
<line x1="514.50" y1="502.90" x2="514.50" y2="510.50" stroke="#E64B35" stroke-width="0.85" />
<line x1="514.50" y1="523.30" x2="514.50" y2="536.20" stroke="#E64B35" stroke-width="0.85" />
<rect x="491.40" y="510.50" width="46.20" height="12.80" fill="none" stroke="#E64B35" stroke-width="0.85" stroke-linejoin="round"/>
<line x1="491.40" y1="516.00" x2="537.60" y2="516.00" stroke="#E64B35" stroke-width="1.4" />
<line x1="579.60" y1="502.20" x2="579.60" y2="508.80" stroke="#4DBBD5" stroke-width="0.85" />
<line x1="579.60" y1="516.90" x2="579.60" y2="520.40" stroke="#4DBBD5" stroke-width="0.85" />
<rect x="556.50" y="508.80" width="46.20" height="8.10" fill="none" stroke="#4DBBD5" stroke-width="0.85" stroke-linejoin="round"/>
<line x1="556.50" y1="510.30" x2="602.70" y2="510.30" stroke="#4DBBD5" stroke-width="1.4" />
<line x1="644.70" y1="416.00" x2="644.70" y2="417.60" stroke="#00A087" stroke-width="0.85" />
<line x1="644.70" y1="420.00" x2="644.70" y2="422.00" stroke="#00A087" stroke-width="0.85" />
<rect x="621.60" y="417.60" width="46.20" height="2.40" fill="none" stroke="#00A087" stroke-width="0.85" stroke-linejoin="round"/>
<line x1="621.60" y1="418.40" x2="667.80" y2="418.40" stroke="#00A087" stroke-width="1.4" />
<circle cx="515.60" cy="504.20" r="1.6" fill="#E64B35"/>
<circle cx="516.20" cy="506.80" r="1.6" fill="#E64B35"/>
<circle cx="511.00" cy="508.30" r="1.6" fill="#E64B35"/>
<circle cx="508.60" cy="513.80" r="1.6" fill="#E64B35"/>
<circle cx="509.20" cy="516.50" r="1.6" fill="#E64B35"/>
<circle cx="521.90" cy="515.10" r="1.6" fill="#E64B35"/>
<circle cx="524.10" cy="518.50" r="1.6" fill="#E64B35"/>
<circle cx="527.20" cy="525.20" r="1.6" fill="#E64B35"/>
<circle cx="509.50" cy="530.00" r="1.6" fill="#E64B35"/>
<circle cx="508.60" cy="536.30" r="1.6" fill="#E64B35"/>
<circle cx="569.50" cy="502.00" r="1.6" fill="#4DBBD5"/>
<circle cx="575.50" cy="509.20" r="1.6" fill="#4DBBD5"/>
<circle cx="583.50" cy="509.50" r="1.6" fill="#4DBBD5"/>
<circle cx="587.50" cy="508.10" r="1.6" fill="#4DBBD5"/>
<circle cx="589.50" cy="507.30" r="1.6" fill="#4DBBD5"/>
<circle cx="566.50" cy="512.10" r="1.6" fill="#4DBBD5"/>
<circle cx="589.80" cy="513.60" r="1.6" fill="#4DBBD5"/>
<circle cx="587.30" cy="518.00" r="1.6" fill="#4DBBD5"/>
<circle cx="578.70" cy="520.20" r="1.6" fill="#4DBBD5"/>
<circle cx="573.30" cy="521.00" r="1.6" fill="#4DBBD5"/>
<circle cx="638.00" cy="416.40" r="1.6" fill="#00A087"/>
<circle cx="635.80" cy="418.10" r="1.6" fill="#00A087"/>
<circle cx="637.10" cy="420.30" r="1.6" fill="#00A087"/>
<circle cx="642.40" cy="417.30" r="1.6" fill="#00A087"/>
<circle cx="646.80" cy="419.90" r="1.6" fill="#00A087"/>
<circle cx="650.70" cy="420.30" r="1.6" fill="#00A087"/>
<circle cx="656.90" cy="416.40" r="1.6" fill="#00A087"/>
<circle cx="656.90" cy="418.60" r="1.6" fill="#00A087"/>
<circle cx="656.90" cy="423.40" r="1.6" fill="#00A087"/>
<path d="M514.50,485.10 V480.30 H579.60 V485.10" fill="none" stroke="#555555" stroke-width="0.75"/>
<text x="0.00" y="0.00" font-size="7.1" text-anchor="middle" fill="#1a1a1a" font-weight="normal" transform="translate(547.05,478.90) scale(1,1.08)">p = 0.275</text>
<path d="M514.50,416.10 V411.30 H644.70 V416.10" fill="none" stroke="#555555" stroke-width="0.75"/>
<text x="0.00" y="0.00" font-size="7.1" text-anchor="middle" fill="#1a1a1a" font-weight="normal" transform="translate(579.60,409.90) scale(1,1.08)">p = 0.00195</text>
<path d="M579.60,404.70 V399.90 H644.70 V404.70" fill="none" stroke="#555555" stroke-width="0.75"/>
<text x="0.00" y="0.00" font-size="7.1" text-anchor="middle" fill="#1a1a1a" font-weight="normal" transform="translate(612.15,398.50) scale(1,1.08)">p = 0.00195</text>
<text x="0.00" y="0.00" font-size="7.1" text-anchor="start" fill="#1a1a1a" font-weight="normal" transform="translate(485.80,397.20) scale(1,1.08)">p &lt; 0.001</text>
<line x1="475.50" y1="364.50" x2="683.50" y2="364.50" stroke="#8f8f8f" stroke-width="1.0" />
<line x1="475.50" y1="380.50" x2="683.50" y2="380.50" stroke="#4a4a4a" stroke-width="1.0" />
<line x1="475.50" y1="563.50" x2="684.00" y2="563.50" stroke="#404040" stroke-width="1.0" />
<line x1="475.50" y1="364.00" x2="475.50" y2="564.00" stroke="#858585" stroke-width="1.0" />
<line x1="683.50" y1="364.00" x2="683.50" y2="564.00" stroke="#3d3d3d" stroke-width="1.0" />
<rect x="47.50" y="568.50" width="209.00" height="16.00" fill="#F0F0F0" stroke="none" stroke-width="0" />
<text x="152.00" y="579.70" font-size="8.1" text-anchor="middle" fill="#1a1a1a" font-weight="normal" >5_mm</text>
<line x1="47.50" y1="730.80" x2="256.50" y2="730.80" stroke="#FF1A1A" stroke-width="1.05" stroke-dasharray="3.95 2.9"/>
<line x1="87.00" y1="701.10" x2="87.00" y2="710.50" stroke="#E64B35" stroke-width="0.85" />
<line x1="87.00" y1="719.10" x2="87.00" y2="720.40" stroke="#E64B35" stroke-width="0.85" />
<rect x="63.90" y="710.50" width="46.20" height="8.60" fill="none" stroke="#E64B35" stroke-width="0.85" stroke-linejoin="round"/>
<line x1="63.90" y1="717.60" x2="110.10" y2="717.60" stroke="#E64B35" stroke-width="1.4" />
<line x1="152.30" y1="712.00" x2="152.30" y2="713.50" stroke="#4DBBD5" stroke-width="0.85" />
<line x1="152.30" y1="716.30" x2="152.30" y2="719.00" stroke="#4DBBD5" stroke-width="0.85" />
<rect x="129.20" y="713.50" width="46.20" height="2.80" fill="none" stroke="#4DBBD5" stroke-width="0.85" stroke-linejoin="round"/>
<line x1="129.20" y1="714.20" x2="175.40" y2="714.20" stroke="#4DBBD5" stroke-width="1.4" />
<line x1="217.40" y1="633.00" x2="217.40" y2="634.40" stroke="#00A087" stroke-width="0.85" />
<line x1="217.40" y1="637.10" x2="217.40" y2="638.50" stroke="#00A087" stroke-width="0.85" />
<rect x="194.30" y="634.40" width="46.20" height="2.70" fill="none" stroke="#00A087" stroke-width="0.85" stroke-linejoin="round"/>
<line x1="194.30" y1="635.20" x2="240.50" y2="635.20" stroke="#00A087" stroke-width="1.4" />
<circle cx="97.30" cy="701.10" r="1.6" fill="#E64B35"/>
<circle cx="91.30" cy="703.30" r="1.6" fill="#E64B35"/>
<circle cx="90.30" cy="709.00" r="1.6" fill="#E64B35"/>
<circle cx="75.00" cy="713.20" r="1.6" fill="#E64B35"/>
<circle cx="79.30" cy="718.00" r="1.6" fill="#E64B35"/>
<circle cx="85.00" cy="716.90" r="1.6" fill="#E64B35"/>
<circle cx="84.20" cy="720.40" r="1.6" fill="#E64B35"/>
<circle cx="86.80" cy="719.50" r="1.6" fill="#E64B35"/>
<circle cx="91.60" cy="720.40" r="1.6" fill="#E64B35"/>
<circle cx="83.30" cy="718.60" r="1.6" fill="#E64B35"/>
<circle cx="149.20" cy="712.40" r="1.6" fill="#4DBBD5"/>
<circle cx="154.80" cy="712.00" r="1.6" fill="#4DBBD5"/>
<circle cx="159.70" cy="712.00" r="1.6" fill="#4DBBD5"/>
<circle cx="161.90" cy="712.40" r="1.6" fill="#4DBBD5"/>
<circle cx="141.30" cy="715.50" r="1.6" fill="#4DBBD5"/>
<circle cx="159.70" cy="716.00" r="1.6" fill="#4DBBD5"/>
<circle cx="148.70" cy="719.00" r="1.6" fill="#4DBBD5"/>
<circle cx="157.50" cy="719.00" r="1.6" fill="#4DBBD5"/>
<circle cx="157.00" cy="713.80" r="1.6" fill="#4DBBD5"/>
<circle cx="204.50" cy="629.20" r="1.6" fill="#00A087"/>
<circle cx="206.30" cy="628.30" r="1.6" fill="#00A087"/>
<circle cx="205.80" cy="634.50" r="1.6" fill="#00A087"/>
<circle cx="205.40" cy="637.50" r="1.6" fill="#00A087"/>
<circle cx="216.80" cy="640.30" r="1.6" fill="#00A087"/>
<circle cx="219.80" cy="638.80" r="1.6" fill="#00A087"/>
<circle cx="224.70" cy="633.60" r="1.6" fill="#00A087"/>
<circle cx="222.00" cy="634.90" r="1.6" fill="#00A087"/>
<circle cx="212.40" cy="636.20" r="1.6" fill="#00A087"/>
<path d="M87.00,689.60 V684.80 H152.30 V689.60" fill="none" stroke="#555555" stroke-width="0.75"/>
<text x="0.00" y="0.00" font-size="7.1" text-anchor="middle" fill="#1a1a1a" font-weight="normal" transform="translate(119.65,683.40) scale(1,1.08)">p = 0.922</text>
<path d="M87.00,620.60 V615.80 H217.40 V620.60" fill="none" stroke="#555555" stroke-width="0.75"/>
<text x="0.00" y="0.00" font-size="7.1" text-anchor="middle" fill="#1a1a1a" font-weight="normal" transform="translate(152.20,614.40) scale(1,1.08)">p = 0.00195</text>
<path d="M152.30,609.20 V604.40 H217.40 V609.20" fill="none" stroke="#555555" stroke-width="0.75"/>
<text x="0.00" y="0.00" font-size="7.1" text-anchor="middle" fill="#1a1a1a" font-weight="normal" transform="translate(184.85,603.00) scale(1,1.08)">p = 0.00195</text>
<text x="0.00" y="0.00" font-size="7.1" text-anchor="start" fill="#1a1a1a" font-weight="normal" transform="translate(58.80,601.70) scale(1,1.08)">p &lt; 0.001</text>
<line x1="47.50" y1="568.50" x2="256.50" y2="568.50" stroke="#8f8f8f" stroke-width="1.0" />
<line x1="47.50" y1="584.50" x2="256.50" y2="584.50" stroke="#4a4a4a" stroke-width="1.0" />
<line x1="47.50" y1="767.90" x2="257.00" y2="767.90" stroke="#4d4d4d" stroke-width="1.0" />
<line x1="47.50" y1="568.00" x2="47.50" y2="768.40" stroke="#858585" stroke-width="1.0" />
<line x1="256.50" y1="568.00" x2="256.50" y2="768.40" stroke="#3d3d3d" stroke-width="1.0" />
<line x1="44.90" y1="765.30" x2="47.50" y2="765.30" stroke="#333" stroke-width="1.0" />
<text x="43.40" y="768.80" font-size="6.8" text-anchor="end" fill="#262626" font-weight="normal" >0.44</text>
<line x1="44.90" y1="753.80" x2="47.50" y2="753.80" stroke="#333" stroke-width="1.0" />
<text x="43.40" y="757.30" font-size="6.8" text-anchor="end" fill="#262626" font-weight="normal" >0.46</text>
<line x1="44.90" y1="742.30" x2="47.50" y2="742.30" stroke="#333" stroke-width="1.0" />
<text x="43.40" y="745.80" font-size="6.8" text-anchor="end" fill="#262626" font-weight="normal" >0.48</text>
<line x1="44.90" y1="730.80" x2="47.50" y2="730.80" stroke="#333" stroke-width="1.0" />
<text x="43.40" y="734.30" font-size="6.8" text-anchor="end" fill="#262626" font-weight="normal" >0.50</text>
<line x1="44.90" y1="719.30" x2="47.50" y2="719.30" stroke="#333" stroke-width="1.0" />
<text x="43.40" y="722.80" font-size="6.8" text-anchor="end" fill="#262626" font-weight="normal" >0.52</text>
<line x1="44.90" y1="707.80" x2="47.50" y2="707.80" stroke="#333" stroke-width="1.0" />
<text x="43.40" y="711.30" font-size="6.8" text-anchor="end" fill="#262626" font-weight="normal" >0.54</text>
<line x1="44.90" y1="696.30" x2="47.50" y2="696.30" stroke="#333" stroke-width="1.0" />
<text x="43.40" y="699.80" font-size="6.8" text-anchor="end" fill="#262626" font-weight="normal" >0.56</text>
<line x1="44.90" y1="684.80" x2="47.50" y2="684.80" stroke="#333" stroke-width="1.0" />
<text x="43.40" y="688.30" font-size="6.8" text-anchor="end" fill="#262626" font-weight="normal" >0.58</text>
<line x1="44.90" y1="673.30" x2="47.50" y2="673.30" stroke="#333" stroke-width="1.0" />
<text x="43.40" y="676.80" font-size="6.8" text-anchor="end" fill="#262626" font-weight="normal" >0.60</text>
<line x1="44.90" y1="661.80" x2="47.50" y2="661.80" stroke="#333" stroke-width="1.0" />
<text x="43.40" y="665.30" font-size="6.8" text-anchor="end" fill="#262626" font-weight="normal" >0.62</text>
<line x1="44.90" y1="650.30" x2="47.50" y2="650.30" stroke="#333" stroke-width="1.0" />
<text x="43.40" y="653.80" font-size="6.8" text-anchor="end" fill="#262626" font-weight="normal" >0.64</text>
<line x1="44.90" y1="638.80" x2="47.50" y2="638.80" stroke="#333" stroke-width="1.0" />
<text x="43.40" y="642.30" font-size="6.8" text-anchor="end" fill="#262626" font-weight="normal" >0.66</text>
<line x1="44.90" y1="627.30" x2="47.50" y2="627.30" stroke="#333" stroke-width="1.0" />
<text x="43.40" y="630.80" font-size="6.8" text-anchor="end" fill="#262626" font-weight="normal" >0.68</text>
<line x1="44.90" y1="615.80" x2="47.50" y2="615.80" stroke="#333" stroke-width="1.0" />
<text x="43.40" y="619.30" font-size="6.8" text-anchor="end" fill="#262626" font-weight="normal" >0.70</text>
<line x1="44.90" y1="604.30" x2="47.50" y2="604.30" stroke="#333" stroke-width="1.0" />
<text x="43.40" y="607.80" font-size="6.8" text-anchor="end" fill="#262626" font-weight="normal" >0.72</text>
<line x1="44.90" y1="592.80" x2="47.50" y2="592.80" stroke="#333" stroke-width="1.0" />
<text x="43.40" y="596.30" font-size="6.8" text-anchor="end" fill="#262626" font-weight="normal" >0.74</text>
<line x1="87.00" y1="767.90" x2="87.00" y2="770.50" stroke="#333" stroke-width="1.0" />
<text x="0.00" y="0.00" font-size="6.9" text-anchor="end" fill="#262626" font-weight="normal" transform="translate(92.20,775.30) rotate(-60)">ss_EPI</text>
<line x1="152.30" y1="767.90" x2="152.30" y2="770.50" stroke="#333" stroke-width="1.0" />
<text x="0.00" y="0.00" font-size="6.9" text-anchor="end" fill="#262626" font-weight="normal" transform="translate(157.50,775.30) rotate(-60)">rs_EPI</text>
<line x1="217.40" y1="767.90" x2="217.40" y2="770.50" stroke="#333" stroke-width="1.0" />
<text x="0.00" y="0.00" font-size="6.9" text-anchor="end" fill="#262626" font-weight="normal" transform="translate(222.60,775.30) rotate(-60)">BLADE_DWI</text>
<rect x="261.50" y="568.50" width="209.00" height="16.00" fill="#F0F0F0" stroke="none" stroke-width="0" />
<text x="366.00" y="579.70" font-size="8.1" text-anchor="middle" fill="#1a1a1a" font-weight="normal" >7_mm</text>
<line x1="261.50" y1="730.80" x2="470.50" y2="730.80" stroke="#FF1A1A" stroke-width="1.05" stroke-dasharray="3.95 2.9"/>
<line x1="300.70" y1="706.00" x2="300.70" y2="708.70" stroke="#E64B35" stroke-width="0.85" />
<line x1="300.70" y1="711.30" x2="300.70" y2="713.40" stroke="#E64B35" stroke-width="0.85" />
<rect x="277.60" y="708.70" width="46.20" height="2.60" fill="none" stroke="#E64B35" stroke-width="0.85" stroke-linejoin="round"/>
<line x1="277.60" y1="710.60" x2="323.80" y2="710.60" stroke="#E64B35" stroke-width="1.4" />
<line x1="365.80" y1="711.10" x2="365.80" y2="715.30" stroke="#4DBBD5" stroke-width="0.85" />
<line x1="365.80" y1="719.30" x2="365.80" y2="721.20" stroke="#4DBBD5" stroke-width="0.85" />
<rect x="342.70" y="715.30" width="46.20" height="4.00" fill="none" stroke="#4DBBD5" stroke-width="0.85" stroke-linejoin="round"/>
<line x1="342.70" y1="716.90" x2="388.90" y2="716.90" stroke="#4DBBD5" stroke-width="1.4" />
<line x1="431.00" y1="648.30" x2="431.00" y2="650.20" stroke="#00A087" stroke-width="0.85" />
<line x1="431.00" y1="654.10" x2="431.00" y2="656.60" stroke="#00A087" stroke-width="0.85" />
<rect x="407.90" y="650.20" width="46.20" height="3.90" fill="none" stroke="#00A087" stroke-width="0.85" stroke-linejoin="round"/>
<line x1="407.90" y1="651.50" x2="454.10" y2="651.50" stroke="#00A087" stroke-width="1.4" />
<circle cx="293.50" cy="706.00" r="1.6" fill="#E64B35"/>
<circle cx="293.50" cy="709.50" r="1.6" fill="#E64B35"/>
<circle cx="299.90" cy="707.30" r="1.6" fill="#E64B35"/>
<circle cx="298.30" cy="709.50" r="1.6" fill="#E64B35"/>
<circle cx="301.30" cy="712.10" r="1.6" fill="#E64B35"/>
<circle cx="305.30" cy="713.40" r="1.6" fill="#E64B35"/>
<circle cx="307.50" cy="709.50" r="1.6" fill="#E64B35"/>
<circle cx="311.00" cy="708.10" r="1.6" fill="#E64B35"/>
<circle cx="293.90" cy="710.80" r="1.6" fill="#E64B35"/>
<circle cx="303.50" cy="711.20" r="1.6" fill="#E64B35"/>
<circle cx="373.30" cy="711.00" r="1.6" fill="#4DBBD5"/>
<circle cx="355.80" cy="715.10" r="1.6" fill="#4DBBD5"/>
<circle cx="369.80" cy="714.20" r="1.6" fill="#4DBBD5"/>
<circle cx="378.60" cy="715.50" r="1.6" fill="#4DBBD5"/>
<circle cx="355.40" cy="719.00" r="1.6" fill="#4DBBD5"/>
<circle cx="362.40" cy="718.10" r="1.6" fill="#4DBBD5"/>
<circle cx="369.00" cy="719.50" r="1.6" fill="#4DBBD5"/>
<circle cx="364.20" cy="721.20" r="1.6" fill="#4DBBD5"/>
<circle cx="373.80" cy="720.80" r="1.6" fill="#4DBBD5"/>
<circle cx="369.40" cy="716.80" r="1.6" fill="#4DBBD5"/>
<circle cx="424.30" cy="648.30" r="1.6" fill="#00A087"/>
<circle cx="428.30" cy="648.30" r="1.6" fill="#00A087"/>
<circle cx="424.30" cy="651.40" r="1.6" fill="#00A087"/>
<circle cx="426.50" cy="654.50" r="1.6" fill="#00A087"/>
<circle cx="426.10" cy="656.60" r="1.6" fill="#00A087"/>
<circle cx="431.80" cy="652.30" r="1.6" fill="#00A087"/>
<circle cx="439.20" cy="649.20" r="1.6" fill="#00A087"/>
<circle cx="441.90" cy="655.30" r="1.6" fill="#00A087"/>
<path d="M300.70,689.60 V684.80 H365.80 V689.60" fill="none" stroke="#555555" stroke-width="0.75"/>
<text x="0.00" y="0.00" font-size="7.1" text-anchor="middle" fill="#1a1a1a" font-weight="normal" transform="translate(333.25,683.40) scale(1,1.08)">p = 0.00195</text>
<path d="M300.70,620.60 V615.80 H431.00 V620.60" fill="none" stroke="#555555" stroke-width="0.75"/>
<text x="0.00" y="0.00" font-size="7.1" text-anchor="middle" fill="#1a1a1a" font-weight="normal" transform="translate(365.85,614.40) scale(1,1.08)">p = 0.00195</text>
<path d="M365.80,609.20 V604.40 H431.00 V609.20" fill="none" stroke="#555555" stroke-width="0.75"/>
<text x="0.00" y="0.00" font-size="7.1" text-anchor="middle" fill="#1a1a1a" font-weight="normal" transform="translate(398.40,603.00) scale(1,1.08)">p = 0.00195</text>
<text x="0.00" y="0.00" font-size="7.1" text-anchor="start" fill="#1a1a1a" font-weight="normal" transform="translate(272.80,601.70) scale(1,1.08)">p &lt; 0.001</text>
<line x1="261.50" y1="568.50" x2="470.50" y2="568.50" stroke="#8f8f8f" stroke-width="1.0" />
<line x1="261.50" y1="584.50" x2="470.50" y2="584.50" stroke="#4a4a4a" stroke-width="1.0" />
<line x1="261.50" y1="767.90" x2="471.00" y2="767.90" stroke="#4d4d4d" stroke-width="1.0" />
<line x1="261.50" y1="568.00" x2="261.50" y2="768.40" stroke="#858585" stroke-width="1.0" />
<line x1="470.50" y1="568.00" x2="470.50" y2="768.40" stroke="#3d3d3d" stroke-width="1.0" />
<line x1="300.70" y1="767.90" x2="300.70" y2="770.50" stroke="#333" stroke-width="1.0" />
<text x="0.00" y="0.00" font-size="6.9" text-anchor="end" fill="#262626" font-weight="normal" transform="translate(305.90,775.30) rotate(-60)">ss_EPI</text>
<line x1="365.80" y1="767.90" x2="365.80" y2="770.50" stroke="#333" stroke-width="1.0" />
<text x="0.00" y="0.00" font-size="6.9" text-anchor="end" fill="#262626" font-weight="normal" transform="translate(371.00,775.30) rotate(-60)">rs_EPI</text>
<line x1="431.00" y1="767.90" x2="431.00" y2="770.50" stroke="#333" stroke-width="1.0" />
<text x="0.00" y="0.00" font-size="6.9" text-anchor="end" fill="#262626" font-weight="normal" transform="translate(436.20,775.30) rotate(-60)">BLADE_DWI</text>
<rect x="475.50" y="568.50" width="208.00" height="16.00" fill="#F0F0F0" stroke="none" stroke-width="0" />
<text x="579.50" y="579.70" font-size="8.1" text-anchor="middle" fill="#1a1a1a" font-weight="normal" >10_mm</text>
<line x1="475.50" y1="730.80" x2="683.50" y2="730.80" stroke="#FF1A1A" stroke-width="1.05" stroke-dasharray="3.95 2.9"/>
<line x1="514.50" y1="703.00" x2="514.50" y2="704.20" stroke="#E64B35" stroke-width="0.85" />
<line x1="514.50" y1="708.90" x2="514.50" y2="709.70" stroke="#E64B35" stroke-width="0.85" />
<rect x="491.40" y="704.20" width="46.20" height="4.70" fill="none" stroke="#E64B35" stroke-width="0.85" stroke-linejoin="round"/>
<line x1="491.40" y1="707.30" x2="537.60" y2="707.30" stroke="#E64B35" stroke-width="1.4" />
<line x1="579.60" y1="708.30" x2="579.60" y2="711.60" stroke="#4DBBD5" stroke-width="0.85" />
<line x1="579.60" y1="714.30" x2="579.60" y2="717.70" stroke="#4DBBD5" stroke-width="0.85" />
<rect x="556.50" y="711.60" width="46.20" height="2.70" fill="none" stroke="#4DBBD5" stroke-width="0.85" stroke-linejoin="round"/>
<line x1="556.50" y1="712.10" x2="602.70" y2="712.10" stroke="#4DBBD5" stroke-width="1.4" />
<line x1="644.70" y1="676.80" x2="644.70" y2="677.30" stroke="#00A087" stroke-width="0.85" />
<line x1="644.70" y1="679.60" x2="644.70" y2="682.50" stroke="#00A087" stroke-width="0.85" />
<rect x="621.60" y="677.30" width="46.20" height="2.30" fill="none" stroke="#00A087" stroke-width="0.85" stroke-linejoin="round"/>
<line x1="621.60" y1="678.40" x2="667.80" y2="678.40" stroke="#00A087" stroke-width="1.4" />
<circle cx="504.80" cy="703.60" r="1.6" fill="#E64B35"/>
<circle cx="513.90" cy="703.10" r="1.6" fill="#E64B35"/>
<circle cx="519.70" cy="703.10" r="1.6" fill="#E64B35"/>
<circle cx="525.90" cy="704.50" r="1.6" fill="#E64B35"/>
<circle cx="525.90" cy="706.20" r="1.6" fill="#E64B35"/>
<circle cx="502.20" cy="709.30" r="1.6" fill="#E64B35"/>
<circle cx="508.80" cy="708.40" r="1.6" fill="#E64B35"/>
<circle cx="525.40" cy="709.70" r="1.6" fill="#E64B35"/>
<circle cx="511.00" cy="706.50" r="1.6" fill="#E64B35"/>
<circle cx="518.00" cy="707.50" r="1.6" fill="#E64B35"/>
<circle cx="571.30" cy="708.30" r="1.6" fill="#4DBBD5"/>
<circle cx="573.00" cy="709.60" r="1.6" fill="#4DBBD5"/>
<circle cx="570.80" cy="711.40" r="1.6" fill="#4DBBD5"/>
<circle cx="571.70" cy="714.00" r="1.6" fill="#4DBBD5"/>
<circle cx="577.80" cy="713.10" r="1.6" fill="#4DBBD5"/>
<circle cx="583.70" cy="716.20" r="1.6" fill="#4DBBD5"/>
<circle cx="567.30" cy="718.00" r="1.6" fill="#4DBBD5"/>
<circle cx="583.10" cy="714.00" r="1.6" fill="#4DBBD5"/>
<circle cx="579.00" cy="712.50" r="1.6" fill="#4DBBD5"/>
<circle cx="638.00" cy="676.80" r="1.6" fill="#00A087"/>
<circle cx="640.20" cy="677.30" r="1.6" fill="#00A087"/>
<circle cx="649.40" cy="677.30" r="1.6" fill="#00A087"/>
<circle cx="657.30" cy="677.30" r="1.6" fill="#00A087"/>
<circle cx="647.20" cy="682.50" r="1.6" fill="#00A087"/>
<circle cx="655.50" cy="680.80" r="1.6" fill="#00A087"/>
<circle cx="635.40" cy="679.00" r="1.6" fill="#00A087"/>
<circle cx="644.00" cy="678.50" r="1.6" fill="#00A087"/>
<circle cx="652.00" cy="678.50" r="1.6" fill="#00A087"/>
<path d="M514.50,689.60 V684.80 H579.60 V689.60" fill="none" stroke="#555555" stroke-width="0.75"/>
<text x="0.00" y="0.00" font-size="7.1" text-anchor="middle" fill="#1a1a1a" font-weight="normal" transform="translate(547.05,683.40) scale(1,1.08)">p = 0.00195</text>
<path d="M514.50,620.60 V615.80 H644.70 V620.60" fill="none" stroke="#555555" stroke-width="0.75"/>
<text x="0.00" y="0.00" font-size="7.1" text-anchor="middle" fill="#1a1a1a" font-weight="normal" transform="translate(579.60,614.40) scale(1,1.08)">p = 0.00195</text>
<path d="M579.60,609.20 V604.40 H644.70 V609.20" fill="none" stroke="#555555" stroke-width="0.75"/>
<text x="0.00" y="0.00" font-size="7.1" text-anchor="middle" fill="#1a1a1a" font-weight="normal" transform="translate(612.15,603.00) scale(1,1.08)">p = 0.00195</text>
<text x="0.00" y="0.00" font-size="7.1" text-anchor="start" fill="#1a1a1a" font-weight="normal" transform="translate(485.80,601.70) scale(1,1.08)">p &lt; 0.001</text>
<line x1="475.50" y1="568.50" x2="683.50" y2="568.50" stroke="#8f8f8f" stroke-width="1.0" />
<line x1="475.50" y1="584.50" x2="683.50" y2="584.50" stroke="#4a4a4a" stroke-width="1.0" />
<line x1="475.50" y1="767.90" x2="684.00" y2="767.90" stroke="#4d4d4d" stroke-width="1.0" />
<line x1="475.50" y1="568.00" x2="475.50" y2="768.40" stroke="#858585" stroke-width="1.0" />
<line x1="683.50" y1="568.00" x2="683.50" y2="768.40" stroke="#3d3d3d" stroke-width="1.0" />
<line x1="514.50" y1="767.90" x2="514.50" y2="770.50" stroke="#333" stroke-width="1.0" />
<text x="0.00" y="0.00" font-size="6.9" text-anchor="end" fill="#262626" font-weight="normal" transform="translate(519.70,775.30) rotate(-60)">ss_EPI</text>
<line x1="579.60" y1="767.90" x2="579.60" y2="770.50" stroke="#333" stroke-width="1.0" />
<text x="0.00" y="0.00" font-size="6.9" text-anchor="end" fill="#262626" font-weight="normal" transform="translate(584.80,775.30) rotate(-60)">rs_EPI</text>
<line x1="644.70" y1="767.90" x2="644.70" y2="770.50" stroke="#333" stroke-width="1.0" />
<text x="0.00" y="0.00" font-size="6.9" text-anchor="end" fill="#262626" font-weight="normal" transform="translate(649.90,775.30) rotate(-60)">BLADE_DWI</text>
<text x="0.00" y="0.00" font-size="9.35" text-anchor="middle" fill="#000" font-weight="normal" transform="translate(25.6,573.4) rotate(-90)">ADC (*10-³mm²/s) at 20 °C (lesion ROI)</text>
</svg>
</body></html>
